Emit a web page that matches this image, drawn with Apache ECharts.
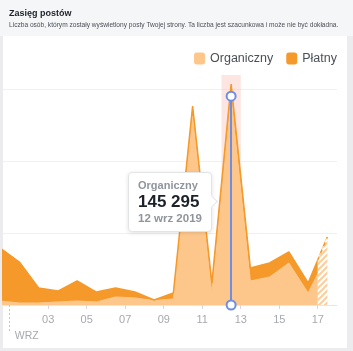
<!DOCTYPE html>
<html>
<head>
<meta charset="utf-8">
<script src="https://cdn.jsdelivr.net/npm/echarts@6/dist/echarts.min.js"></script>
<style>
  html, body { margin: 0; padding: 0; }
  body { width: 353px; height: 351px; background: #ececee; position: relative; overflow: hidden;
         font-family: "Liberation Sans", Arial, sans-serif; }
  #head { position: absolute; left: 0; top: 0; width: 353px; height: 36px; background: #f5f6f7; }
  #panel { position: absolute; left: 3px; top: 36px; width: 344px; height: 312px; background: #fff; }
  #chart { position: absolute; left: 0; top: 0; width: 353px; height: 351px; }
  .tip::after {
    content: ''; position: absolute; right: -5px; top: 24px; width: 8px; height: 8px;
    background: #fff; border-right: 1px solid #e3e4e6; border-top: 1px solid #e3e4e6;
    transform: rotate(45deg);
  }
</style>
</head>
<body>
<div id="head"></div>
<div id="panel"></div>
<div id="chart"></div>
<script>
// dzień września (0 = 31 sie), wartości dzienne
const days = [0, 1, 2, 3, 4, 5, 6, 7, 8, 9, 10, 11, 12, 13, 14, 15, 16, 17];
const organic = [2800, 1400, 1400, 2100, 2800, 2100, 5600, 4900, 3100, 4200, 131500, 7650, 145295, 16700, 19500, 29200, 8350, 34800];
const paid = [36900, 28500, 10400, 7600, 13900, 6900, 6200, 4100, 400, 4200, 6900, 7650, 8400, 9000, 9700, 7700, 6950, 12500];
const tickDays = [3, 5, 7, 9, 11, 13, 15, 17];
const monthLabel = 'WRZ';
const seriesNames = ['Organiczny', 'Płatny'];
const selectedDay = 12;
const selectedDate = '12 wrz 2019';
const partialFrom = 17; // ostatni dzień jeszcze niepełny (kreskowanie)

const ORG = '#fdc78c';
const PAID = '#f5992b';

// wzór kreskowania
const hatch = document.createElement('canvas');
hatch.width = 6; hatch.height = 6;
const hc = hatch.getContext('2d');
hc.strokeStyle = '#fdcd9c';
hc.lineWidth = 2;
hc.beginPath();
hc.moveTo(-1, 7); hc.lineTo(7, -1);
hc.moveTo(-1, 1); hc.lineTo(1, -1);
hc.moveTo(5, 7); hc.lineTo(7, 5);
hc.stroke();

const center = d => d + 0.5;
// [wartość, dzień] -> stos liczony po wartości (encode y:0)
const orgData = days.map((d, i) => [organic[i], center(d)]);
const paidData = days.map((d, i) => [paid[i], center(d)]);
const n = days.length;
const partData = [[center(days[n - 2]), organic[n - 2] + paid[n - 2], center(days[n - 1]), organic[n - 1] + paid[n - 1]]];
const selIdx = days.indexOf(selectedDay);

const fmt = v => String(v).replace(/\B(?=(\d{3})+(?!\d))/g, ' ');

// ostatni, niepełny odcinek: białe tło + kreskowanie, przycięte od granicy dnia
function renderPartial(params, api) {
  const a = api.coord([api.value(0), api.value(1)]);
  const b = api.coord([api.value(2), api.value(3)]);
  const a0 = api.coord([api.value(0), 0]);
  const b0 = api.coord([api.value(2), 0]);
  const bx = api.coord([partialFrom, 0])[0];
  const cs = params.coordSys;
  const pts = [a0, a, b, b0];
  const clip = { type: 'rect', shape: { x: bx, y: cs.y - 20, width: cs.x + cs.width - bx, height: cs.height + 20 } };
  return {
    type: 'group',
    clipPath: clip,
    children: [
      { type: 'polygon', shape: { points: pts }, style: { fill: '#fff', stroke: '#fff', lineWidth: 1 } },
      { type: 'polygon', shape: { points: pts }, style: { fill: { image: hatch, repeat: 'repeat' } } },
      { type: 'polyline', shape: { points: [a, b] }, style: { stroke: PAID, lineWidth: 1.5, lineDash: [4, 4], fill: null } }
    ]
  };
}

const chart = echarts.init(document.getElementById('chart'));
chart.setOption({
  animation: false,
  title: {
    text: 'Zasięg postów',
    subtext: 'Liczba osób, którym zostały wyświetlony posty Twojej strony. Ta liczba jest szacunkowa i może nie być dokładna.',
    left: 4, top: 4, itemGap: 4,
    textStyle: { fontSize: 9, fontWeight: 'bold', color: '#1d2129', fontFamily: 'Liberation Sans' },
    subtextStyle: { fontSize: 6.6, color: '#4b4f56', fontFamily: 'Liberation Sans' }
  },
  legend: {
    right: 11, top: 47,
    itemWidth: 11, itemHeight: 12, itemGap: 13,
    icon: 'roundRect',
    textStyle: { fontSize: 12.5, color: '#4b4f56', fontFamily: 'Liberation Sans' },
    data: [
      { name: seriesNames[0], itemStyle: { color: ORG, opacity: 1 } },
      { name: seriesNames[1], itemStyle: { color: PAID, opacity: 1 } }
    ],
    selectedMode: false
  },
  tooltip: {
    trigger: 'item',
    triggerOn: 'none',
    alwaysShowContent: true,
    transitionDuration: 0,
    className: 'tip',
    backgroundColor: '#fff',
    borderColor: '#e3e4e6',
    borderWidth: 1,
    padding: [5, 9, 5, 9],
    extraCssText: 'border-radius:4px;box-shadow:0 1px 4px rgba(0,0,0,0.12);',
    position: (point, params, dom, rect, size) => [point[0] - size.contentSize[0] - 19, point[1] + 76],
    formatter: p =>
      '<div style="font:bold 11px Liberation Sans;color:#90949c;line-height:14px">' + seriesNames[0] + '</div>' +
      '<div style="font:bold 17px Liberation Sans;color:#1d2129;line-height:19px">' + fmt(p.value[0]) + '</div>' +
      '<div style="font:bold 11.5px Liberation Sans;color:#90949c;line-height:15px">' + selectedDate + '</div>'
  },
  grid: { left: 3, right: 16, top: 75, bottom: 46 },
  xAxis: [
    {
      type: 'value', min: 0.65, max: 18,
      axisLine: { lineStyle: { color: '#e6e7ea' } },
      axisTick: { customValues: tickDays, length: 4, lineStyle: { color: '#d6d8db' } },
      axisLabel: {
        customValues: tickDays, margin: 9, fontSize: 11, color: '#a6a9ae', fontFamily: 'Liberation Sans',
        formatter: v => (v < 10 ? '0' : '') + v
      },
      splitLine: { show: false }
    },
    {
      type: 'value', min: 0.65, max: 18, position: 'bottom',
      axisLine: { show: false },
      axisTick: { customValues: [1], length: 27, lineStyle: { color: '#c4c7cb', type: [2, 2] } },
      axisLabel: {
        customValues: [1], margin: 26, fontSize: 10.5, color: '#a6a9ae', align: 'left',
        padding: [0, 0, 0, 5], fontFamily: 'Liberation Sans', formatter: () => monthLabel
      },
      splitLine: { show: false }
    }
  ],
  yAxis: {
    type: 'value', min: 0, max: 160000, interval: 50000,
    axisLine: { show: false }, axisTick: { show: false }, axisLabel: { show: false },
    splitLine: { showMaxLine: false, showMinLine: false, lineStyle: { color: '#eef0f2' } }
  },
  series: [
    {
      name: seriesNames[0],
      type: 'line',
      stack: 'total',
      data: orgData,
      encode: { x: 1, y: 0 },
      showSymbol: true,
      showAllSymbol: true,
      symbolSize: 2,
      itemStyle: { color: ORG, opacity: 0 },
      z: 2,
      lineStyle: { width: 1, color: ORG },
      areaStyle: { opacity: 1, color: ORG }
    },
    {
      name: seriesNames[1],
      type: 'line',
      stack: 'total',
      data: paidData,
      encode: { x: 1, y: 0 },
      showSymbol: false,
      silent: true,
      z: 2,
      itemStyle: { color: PAID },
      lineStyle: { width: 1.5, color: PAID },
      areaStyle: { opacity: 1, color: PAID }
    },
    {
      name: 'partial',
      type: 'custom',
      data: partData,
      z: 3,
      silent: true,
      renderItem: renderPartial
    },
    {
      name: 'highlight',
      type: 'line',
      data: [],
      z: 4,
      silent: true,
      markArea: {
        silent: true,
        itemStyle: { color: 'rgba(250,190,180,0.4)' },
        data: [[{ coord: [selectedDay, 0] }, { coord: [selectedDay + 1, 160000] }]]
      },
      markLine: {
        silent: true,
        symbol: ['emptyCircle', 'emptyCircle'],
        symbolSize: 9,
        label: { show: false },
        lineStyle: { color: '#6f8ee3', width: 2, type: 'solid' },
        data: [[{ coord: [center(selectedDay), 0] }, { coord: [center(selectedDay), organic[selIdx]] }]]
      }
    }
  ]
});
chart.dispatchAction({ type: 'showTip', seriesIndex: 0, dataIndex: selIdx });
</script>
</body>
</html>
